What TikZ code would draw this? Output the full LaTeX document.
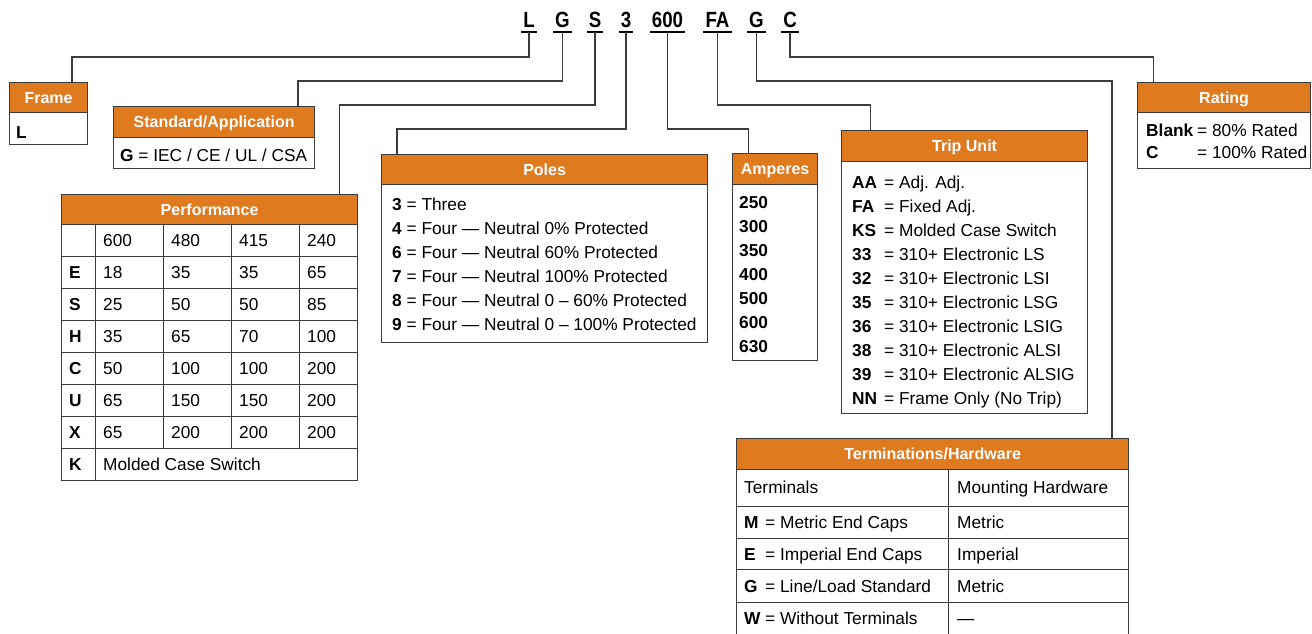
\documentclass[tikz,border=0pt]{standalone}
\usepackage{fontspec}
\setmainfont{Liberation Sans}
\newfontfamily\codefont{Liberation Sans}[FakeStretch=0.85]
\definecolor{hdrorange}{RGB}{224,122,31}
\definecolor{edge}{RGB}{60,60,60}
\tikzset{
  hdr/.style={draw=edge, line width=1.2pt, fill=hdrorange, text=white,
    font=\fontsize{16}{16}\selectfont\bfseries, inner sep=0pt, anchor=north west,
    text height=11.7pt, text depth=0pt},
  bodybox/.style={draw=edge, line width=1.2pt, fill=white, inner sep=0pt, anchor=north west},
  txt/.style={anchor=base west, inner sep=0pt, font=\fontsize{17.3}{17}\selectfont},
  btxt/.style={txt, font=\fontsize{17.3}{17}\selectfont\bfseries},
  code/.style={anchor=base, inner xsep=2pt, inner ysep=0pt,
    font=\codefont\fontsize{22}{22}\selectfont\bfseries},
  leader/.style={draw=edge, line width=1.2pt},
  gridline/.style={draw=edge, line width=1pt},
}
\begin{document}
\begin{tikzpicture}[x=1pt,y=-1pt]
\useasboundingbox (0,0) rectangle (1312,633);
\clip (0,0) rectangle (1312,633);

% ---- code letters ----
\node[code] (cL)  at (529,27)   {L};
\node[code] (cG1) at (562.5,27) {G};
\node[code] (cS)  at (595,27)   {S};
\node[code] (c3)  at (626,27)   {3};
\node[code] (c600) at (667.5,27) {600};
\node[code] (cFA) at (717.5,27) {FA};
\node[code] (cG2) at (756.5,27) {G};
\node[code] (cC)  at (790,27)   {C};
\foreach \n in {cL,cG1,cS,c3,c600,cFA,cG2,cC}{
  \draw[draw=black, line width=1.6pt] ([yshift=-5pt]\n.base west) -- ([yshift=-5pt]\n.base east);
}

% ---- boxes ----
% Frame
\node[bodybox, minimum width=78pt, minimum height=32pt] (frameB) at (9,112) {};
\node[hdr, minimum width=78pt, minimum height=30pt] (frameH) at (9,82) {Frame};
\node[btxt] (frameT) at (16,138) {L};

% Standard
\node[bodybox, minimum width=201pt, minimum height=31pt] (stdB) at (113,137) {};
\node[hdr, minimum width=201pt, minimum height=31pt] (stdH) at (113,106) {Standard/Application};
\node[txt] (stdT) at (120,161) {\textbf{G} = IEC / CE / UL / CSA};

% Performance
\node[bodybox, minimum width=296pt, minimum height=256pt] (perfB) at (61,224) {};
\node[hdr, minimum width=296pt, minimum height=30pt] (perfH) at (61,194) {Performance};
\foreach \x in {163,231,299}{ \draw[gridline] (\x,224) -- (\x,448); }
\draw[gridline] (95,224) -- (95,480);
\foreach \y in {256,288,320,352,384,416,448}{ \draw[gridline] (61,\y) -- (357,\y); }
\node[txt] (ph1) at (103,246) {600};
\node[txt] (ph2) at (171,246) {480};
\node[txt] (ph3) at (239,246) {415};
\node[txt] (ph4) at (307,246) {240};
\foreach \l/\a/\b/\c/\d [count=\i] in {E/18/35/35/65,S/25/50/50/85,H/35/65/70/100,C/50/100/100/200,U/65/150/150/200,X/65/200/200/200}{
  \pgfmathsetmacro\yy{246+32*\i}
  \node[btxt] (pl\i) at (69,\yy) {\l};
  \node[txt] (pa\i) at (103,\yy) {\a};
  \node[txt] (pb\i) at (171,\yy) {\b};
  \node[txt] (pc\i) at (239,\yy) {\c};
  \node[txt] (pd\i) at (307,\yy) {\d};
}
\node[btxt] (pK) at (69,470) {K};
\node[txt] (pKt) at (103,470) {Molded Case Switch};

% Poles
\node[bodybox, minimum width=326pt, minimum height=158pt] (polesB) at (381,184) {};
\node[hdr, minimum width=326pt, minimum height=30pt] (polesH) at (381,154) {Poles};
\foreach \c/\t [count=\i from 0] in {3/Three,4/Four --- Neutral 0\% Protected,6/Four --- Neutral 60\% Protected,7/Four --- Neutral 100\% Protected,8/Four --- Neutral 0 -- 60\% Protected,9/Four --- Neutral 0 -- 100\% Protected}{
  \pgfmathsetmacro\yy{210.5+24*\i}
  \node[txt] (po\i) at (392,\yy) {\textbf{\c} = \t};
}

% Amperes
\node[bodybox, minimum width=85pt, minimum height=176pt] (ampB) at (732,184) {};
\node[hdr, minimum width=85pt, minimum height=31pt] (ampH) at (732,153) {Amperes};
\foreach \a [count=\i from 0] in {250,300,350,400,500,600,630}{
  \pgfmathsetmacro\yy{208+24*\i}
  \node[btxt] (am\i) at (739,\yy) {\a};
}

% Trip Unit
\node[bodybox, minimum width=246pt, minimum height=252pt] (tripB) at (841,161) {};
\node[hdr, minimum width=246pt, minimum height=31pt] (tripH) at (841,130) {Trip Unit};
\foreach \c/\t [count=\i from 0] in {AA/Adj. Adj.,FA/Fixed Adj.,KS/Molded Case Switch,33/310+ Electronic LS,32/310+ Electronic LSI,35/310+ Electronic LSG,36/310+ Electronic LSIG,38/310+ Electronic ALSI,39/310+ Electronic ALSIG,NN/Frame Only (No Trip)}{
  \pgfmathsetmacro\yy{188+24*\i}
  \node[btxt] (tc\i) at (852,\yy) {\c};
  \node[txt] (tt\i) at (884,\yy) {= \t};
}

% Rating
\node[bodybox, minimum width=173pt, minimum height=56pt] (ratB) at (1137,112) {};
\node[hdr, minimum width=173pt, minimum height=30pt] (ratH) at (1137,82) {Rating};
\node[btxt] (rc1) at (1146,136) {Blank};
\node[txt] (rt1) at (1197,136) {= 80\% Rated};
\node[btxt] (rc2) at (1146,158) {C};
\node[txt] (rt2) at (1197,158) {= 100\% Rated};

% Terminations
\node[bodybox, minimum width=392pt, minimum height=180pt] (termB) at (736,469) {};
\node[hdr, minimum width=392pt, minimum height=31pt] (termH) at (736,438) {Terminations/Hardware};
\draw[gridline] (948,469) -- (948,640);
\foreach \y in {506,538,569,602}{ \draw[gridline] (736,\y) -- (1128,\y); }
\node[txt] (th1) at (744,493) {Terminals};
\node[txt] (th2) at (957,493) {Mounting Hardware};
\foreach \c/\t/\m [count=\i from 0] in {M/{Metric End Caps}/Metric,E/{Imperial End Caps}/Imperial,G/{Line/Load Standard}/Metric,W/{Without Terminals}/---}{
  \pgfmathsetmacro\yy{528+32*\i}
  \node[btxt] (tm\i) at (744,\yy) {\c};
  \node[txt] (tq\i) at (765,\yy) {= \t};
  \node[txt] (tr\i) at (957,\yy) {\m};
}

% ---- leaders ----
\draw[leader] ([yshift=-5pt]cL.base)   -- (cL.base |- 0,57)   -| ([xshift=63pt]frameH.north west);
\draw[leader] ([yshift=-5pt]cG1.base)  -- (cG1.base |- 0,81)  -| ([xshift=185pt]stdH.north west);
\draw[leader] ([yshift=-5pt]cS.base)   -- (cS.base |- 0,105)  -| ([xshift=278.5pt]perfH.north west);
\draw[leader] ([yshift=-5pt]c3.base)   -- (c3.base |- 0,129)  -| ([xshift=16pt]polesH.north west);
\draw[leader] ([yshift=-5pt]c600.base) -- (c600.base |- 0,129) -| ([xshift=16.5pt]ampH.north west);
\draw[leader] ([yshift=-5pt]cFA.base)  -- (cFA.base |- 0,105) -| ([xshift=29.5pt]tripH.north west);
\draw[leader] ([yshift=-5pt]cG2.base)  -- (cG2.base |- 0,81)  -| ([xshift=376pt]termH.north west);
\draw[leader] ([yshift=-5pt]cC.base)   -- (cC.base |- 0,57)   -| ([xshift=16.5pt]ratH.north west);
\end{tikzpicture}
\end{document}
